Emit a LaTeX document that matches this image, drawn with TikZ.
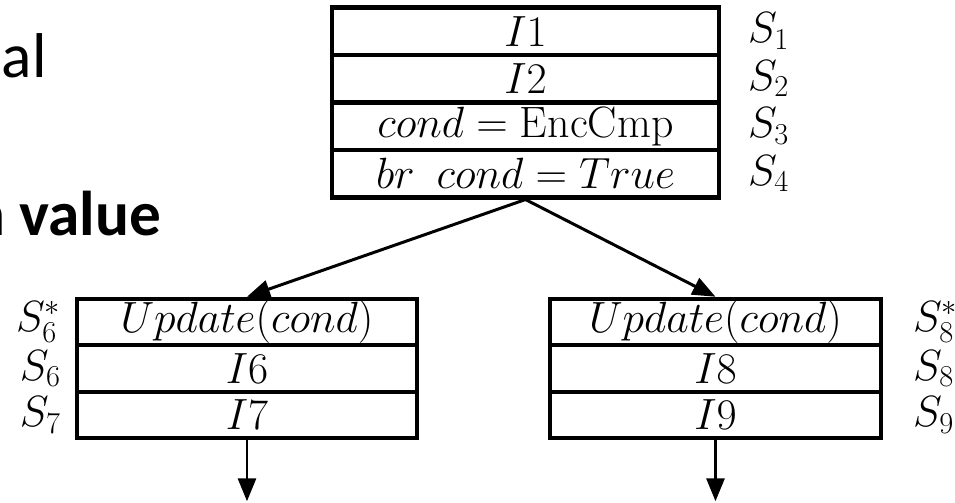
\documentclass[tikz,border=0pt]{standalone}
\usepackage{fontspec}
\usetikzlibrary{matrix,positioning,arrows.meta}
\newfontfamily\slidefont{Carlito}
\tikzset{
block/.style={
  matrix of math nodes,
  inner sep=0pt,
  row sep=-\pgflinewidth,
  nodes={draw,rectangle,inner sep=0pt,minimum height=0.93cm,font=\fontsize{25}{30}\selectfont}
},
rowlbl/.style={inner sep=0pt,font=\fontsize{26}{31}\selectfont},
flow/.style={line width=1.7pt,-{Triangle[length=0.46cm,width=0.36cm]}},
slide/.style={inner sep=0pt,anchor=base west,font=\slidefont\fontsize{36}{43}\selectfont}
}

\begin{document}
\begin{tikzpicture}[line width=2.3pt]
\useasboundingbox (0,0) rectangle (19.1,-10.04);
\clip (0,0) rectangle (19.1,-10.04);
% slide text cut by the frame
\node[slide] (titletail) at (-0.67,-1.54) {nal};
\node[slide] (bullettail) at (-0.62,-4.7) {\bfseries n value};
\matrix (topblk) [block, nodes={minimum width=7.74cm, minimum height=0.95cm}] at (10.51,-2.05) {
    I1 \\
    I2 \\
    cond = \mathrm{EncCmp} \\
    br\enspace cond = True \\
};
\matrix (leftblk) [block, nodes={minimum width=6.8cm}] at (4.94,-7.37) {
    Update(cond) \\
    I6 \\
    I7 \\
};
\matrix (rightblk) [block, nodes={minimum width=6.62cm}] at (14.31,-7.37) {
    Update(cond) \\
    I8 \\
    I9 \\
};
% state labels
\foreach \r in {1,...,4}
  \node[rowlbl, right=0.5cm of topblk-\r-1] (s\r) {$S_{\r}$};
\foreach \r/\lbl in {1/S_6^*,2/S_6,3/S_7}
  \node[rowlbl, left=0.24cm of leftblk-\r-1] (l\r) {$\lbl$};
\foreach \r/\lbl in {1/S_8^*,2/S_8,3/S_9}
  \node[rowlbl, right=0.56cm of rightblk-\r-1] (r\r) {$\lbl$};
% branches
\coordinate (leftend) at ([yshift=-1.22cm]leftblk-3-1.south);
\coordinate (rightend) at ([yshift=-1.22cm]rightblk-3-1.south);
\draw[flow] (topblk-4-1.south) -- (leftblk-1-1.north);
\draw[flow] (topblk-4-1.south) -- (rightblk-1-1.north);
\draw[flow] (leftblk-3-1.south) -- (leftend);
\draw[flow] (rightblk-3-1.south) -- (rightend);
\end{tikzpicture}
\end{document}
